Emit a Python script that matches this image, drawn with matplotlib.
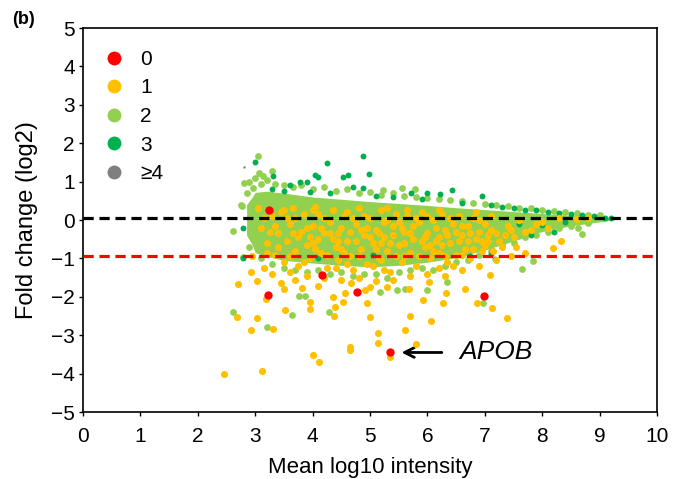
import numpy as np
import matplotlib
matplotlib.use("Agg")
import matplotlib.pyplot as plt
from matplotlib.lines import Line2D

plt.rcParams['font.family'] = ['Liberation Sans', 'DejaVu Sans']

# dense core of the cloud (light green), upper / lower edge
core_x  = [2.85, 2.95, 3.0, 3.2, 3.5, 4.0, 4.5, 5.0, 5.5, 6.0, 6.5, 7.0, 7.5, 8.0, 8.5, 9.0, 9.3]
core_hi = [0.40, 0.60, 0.72, 0.75, 0.70, 0.60, 0.54, 0.48, 0.43, 0.38, 0.32, 0.27, 0.22, 0.17, 0.12, 0.08, 0.05]
core_lo = [-0.40, -0.65, -0.85, -0.95, -1.05, -1.12, -1.18, -1.22, -1.18, -1.10, -0.98, -0.78, -0.55, -0.30, -0.15, -0.05, 0.02]

# light green points (count 2)
g2_x = [2.85, 2.9, 3.0, 3.1, 3.2, 3.35, 3.5, 3.65, 3.8, 4.0, 4.2, 4.4, 4.6, 4.8, 5.0, 5.2, 5.4, 5.6,
        5.8, 6.0, 6.2, 6.4, 6.6, 6.8, 7.0, 7.2, 7.4, 7.6, 7.8, 8.0, 8.2, 8.4, 8.6, 8.8, 9.0,
        3.05, 3.29, 3.07, 3.14, 2.80, 2.96, 2.75, 2.61, 2.77, 2.79, 3.0, 2.61, 3.2, 3.64, 3.76, 3.87,
        4.29, 6.97, 6.34, 5.99, 5.61, 5.47, 5.17, 7.65, 7.84, 8.69, 8.62, 5.56, 5.78, 5.23,
        2.9, 3.1, 3.3, 3.5, 3.7, 3.9, 4.1, 4.3, 4.5, 4.7, 4.9, 5.1, 5.3, 5.5, 5.7, 5.9, 6.1, 6.3,
        6.5, 6.7, 6.9, 7.1, 7.3, 7.5, 7.7, 7.9, 8.1, 8.3, 8.5, 8.8]
g2_y = [0.70, 1.00, 1.10, 0.95, 1.05, 0.95, 0.90, 0.85, 0.90, 0.80, 0.85, 0.75, 0.80, 0.70, 0.72, 0.66, 0.70, 0.62,
        0.60, 0.58, 0.55, 0.52, 0.50, 0.45, 0.42, 0.40, 0.36, 0.32, 0.30, 0.26, 0.24, 0.20, 0.17, 0.14, 0.12,
        1.67, 1.28, 1.22, 1.15, 0.96, 0.83, 0.39, -0.29, 0.36, -0.96, -0.57, -2.40, -2.79, -2.47, -1.98, -1.98,
        -2.40, -2.16, -1.61, -1.82, -1.80, -1.82, -1.87, -1.28, -1.07, -0.36, -0.21, 0.83, 0.81, 0.78,
        -0.70, -1.00, -1.15, -1.25, -1.30, -1.35, -1.30, -1.40, -1.35, -1.45, -1.40, -1.40, -1.50, -1.35, -1.30, -1.25, -1.30, -1.20,
        -1.10, -1.05, -0.90, -0.80, -0.65, -0.60, -0.45, -0.40, -0.30, -0.20, -0.15, -0.08]

# dark green points (count 3)
g3_x = [3.0, 4.25, 3.31, 4.04, 4.09, 4.62, 4.53, 3.78, 3.9, 3.61, 4.88, 4.98, 5.71, 5.99, 6.22, 6.43, 6.95,
        4.88, 4.70, 2.79, 2.79, 3.3, 3.5, 3.95, 4.3, 5.1, 5.4, 5.9, 6.6, 7.1, 7.3, 7.5, 7.7, 7.9, 8.1,
        8.3, 8.5, 8.7, 8.9, 9.1, 9.2, 7.6, 8.0, 8.4, 8.2, 7.8, 5.05, 6.75, 4.1, 7.11, 7.18]
g3_y = [1.51, 1.48, 1.15, 1.17, 1.12, 1.17, 1.12, 0.99, 0.99, 0.91, 1.67, 1.20, 0.70, 0.70, 0.68, 0.77, 0.62,
        0.83, 0.86, -0.21, -1.00, 0.80, 0.75, 0.72, 0.70, 0.62, 0.60, 0.55, 0.45, 0.40, 0.33, 0.30, 0.27, 0.25, 0.20,
        0.18, 0.15, 0.12, 0.10, 0.06, 0.04, -0.10, -0.12, -0.05, -0.30, -0.40, -0.92, -0.95, -1.00, -0.89, -1.02]

# orange points (count 1)
g1_x = [3.05, 3.1, 3.2, 3.3, 3.35, 3.4, 3.45, 3.5, 3.55, 3.6, 3.65, 3.7, 3.75, 3.8, 3.85, 3.9, 3.95, 4.0,
        4.05, 4.1, 4.15, 4.2, 4.25, 4.3, 4.35, 4.4, 4.45, 4.5, 4.55, 4.6, 4.65, 4.7, 4.75, 4.8, 4.85, 4.9,
        4.95, 5.0, 5.05, 5.1, 5.15, 5.2, 5.25, 5.3, 5.35, 5.4, 5.45, 5.5, 5.55, 5.6, 5.65, 5.7, 5.75, 5.8,
        5.85, 5.9, 5.95, 6.0, 6.05, 6.1, 6.15, 6.2, 6.25, 6.3, 6.35, 6.4, 6.45, 6.5, 6.55, 6.6, 6.65, 6.7,
        6.75, 6.8, 6.85, 6.9, 6.95, 7.0, 7.05, 7.1, 7.2, 7.3, 7.4, 7.5, 7.6, 7.7, 7.9, 8.1, 8.3, 8.6, 8.8,
        3.25, 3.55, 3.75, 4.05, 4.35, 4.55, 4.75, 4.95, 5.15, 5.35, 5.55, 5.75, 5.95, 6.15, 6.35, 6.55,
        6.75, 6.95, 7.15, 7.35, 4.15, 4.45, 5.05, 5.45, 5.85, 6.45, 3.95, 4.65, 5.25, 6.05,
        3.15, 3.4, 3.6, 3.7, 3.85, 4.0, 4.1, 4.25, 4.3, 4.45, 4.6, 4.7, 4.8, 4.9, 5.0, 5.1, 5.2, 5.3,
        5.4, 5.5, 5.6, 5.7, 5.8, 5.9, 6.0, 6.1, 6.2, 6.3, 6.4, 6.5, 6.6, 6.7, 6.8, 6.9, 7.0, 7.1,
        7.25, 7.45, 7.55, 7.8, 8.0, 3.35, 3.65, 3.9, 4.2, 4.5, 4.85, 5.2, 5.6, 6.25, 6.6, 7.05,
        3.5, 3.2, 4.6, 5.65, 6.2, 6.85, 4.0, 5.3,
        3.45, 3.50, 3.29, 3.69, 4.09, 3.82, 4.67, 5.0, 4.91, 5.30, 5.68, 6.03, 6.66, 6.32, 7.09, 4.36,
        4.39, 4.37, 4.56, 4.53, 3.95, 3.95, 3.52, 2.70, 2.93, 3.03, 3.19, 2.68, 3.03, 2.93, 3.31, 2.46,
        3.12, 4.0, 4.11, 4.65, 4.65, 4.95, 5.0, 5.14, 5.14, 5.61, 5.70, 6.06, 5.80, 5.35, 5.92, 6.27,
        6.86, 7.13, 7.39, 8.19, 8.33,
        3.6, 3.9, 4.2, 4.5, 4.8, 5.1, 5.4, 5.7, 6.0, 6.3, 6.6, 6.9, 7.2, 7.45, 7.7, 4.4, 5.25, 6.2, 2.95, 3.15]
g1_y = [0.30, -0.20, -0.60, 0.10, -0.90, -0.35, 0.20, -1.10, -0.55, -0.10, 0.30, -0.80, -1.20, -0.30, 0.15, -0.65, -1.00, -0.15,
        0.35, -0.50, -0.85, 0.05, -1.25, -0.35, 0.25, -0.70, -1.05, -0.20, 0.10, -0.55, -0.95, -1.30, -0.10, 0.30, -0.75, -0.40,
        -1.15, 0.05, -0.60, -0.25, -1.00, 0.25, -0.45, -0.80, -1.35, -0.15, 0.15, -0.65, -1.10, -0.30, 0.10, -0.85, -0.50, -1.20,
        -0.05, 0.20, -0.70, -0.35, -1.00, 0.00, -0.55, -0.85, 0.15, -0.25, -1.10, -0.60, -0.10, -0.90, 0.10, -0.40, -0.75, -0.15,
        -1.00, 0.05, -0.50, -0.30, -0.80, -0.10, -0.55, 0.10, -0.35, -0.70, -0.15, -0.45, 0.00, -0.30, -0.10, -0.20, 0.05, 0.02, 0.05,
        -0.30, 0.05, -0.45, -0.75, -0.50, -0.85, -0.55, -0.20, -0.35, -0.60, -0.20, -0.15, -0.45, -0.20, -0.40, -0.55,
        -0.35, -0.55, -0.80, -0.40, -0.20, -0.35, -1.20, -0.95, -0.95, -1.20, -0.45, -0.30, -0.05, -0.65,
        0.05, -0.70, -0.95, 0.05, -1.10, -0.60, 0.15, -0.90, -0.05, -0.55, -1.15, 0.05, -0.95, 0.10, -0.45, -0.75, -1.05, 0.00,
        -0.40, -0.05, -0.95, -0.35, 0.05, -0.55, 0.10, -0.80, -0.45, -0.95, 0.05, -0.30, -0.90, -0.55, -0.75, 0.00, -0.65, -0.25,
        -0.55, -0.25, -0.70, -0.25, -0.05, -0.15, -0.35, -0.20, -0.35, -0.75, -0.25, -0.60, -0.60, -0.65, -0.15, -0.40,
        0.25, -0.85, 0.20, 0.25, 0.25, 0.20, 0.25, 0.30,
        -1.64, -1.80, -1.41, -1.56, -1.72, -1.77, -1.64, -1.74, -1.82, -1.74, -1.80, -1.61, -1.80, -1.90, -1.43, -2.00,
        -2.27, -2.50, -1.90, -2.13, -2.32, -2.13, -2.34, -1.67, -1.35, -1.59, -2.06, -2.53, -2.55, -2.86, -2.84, -4.02,
        -3.93, -3.52, -3.70, -3.31, -3.39, -2.16, -2.53, -2.94, -3.20, -2.86, -2.50, -2.63, -3.23, -3.57, -2.08, -2.16,
        -2.16, -2.29, -2.55, -0.73, -0.55,
        -1.35, -1.45, -1.50, -1.55, -1.50, -1.60, -1.55, -1.45, -1.40, -1.45, -1.30, -1.20, -1.05, -0.95, -0.85, -1.25, -1.30, -1.25, -0.95, -1.25]

# red points (count 0)
g0_x = [3.24, 3.22, 4.16, 4.77, 6.99, 5.35]
g0_y = [0.26, -1.95, -1.43, -1.88, -1.97, -3.45]

# grey point (count >=4)
g4_x = [2.80]
g4_y = [1.38]

mean_line = 0.05
cut_line = -0.93

labels = ['0', '1', '2', '3', '\u22654']
colors = ['#ff0000', '#ffc000', '#92d050', '#00b050', '#7f7f7f']

fig = plt.figure(figsize=(6.73, 4.79), dpi=100)
ax = fig.add_axes([83/673, 1-412/479, 574/673, 384/479])

ax.fill_between(core_x, core_lo, core_hi, color=colors[2], lw=0, zorder=1)
ax.scatter(g2_x, g2_y, s=24, color=colors[2], lw=0, zorder=2)
ax.scatter(g3_x, g3_y, s=18, color=colors[3], lw=0, zorder=3)
ax.scatter(g1_x, g1_y, s=26, color=colors[1], lw=0, zorder=4)
ax.scatter(g0_x, g0_y, s=36, color=colors[0], lw=0, zorder=6)
ax.scatter(g4_x, g4_y, s=3, color=colors[4], lw=0, zorder=6)

ax.axhline(mean_line, color='black', lw=2.3, dashes=(3.2, 1.8), zorder=5)
ax.axhline(cut_line, color='#ff0000', lw=2.3, dashes=(3.2, 1.8), zorder=5)

ax.set_xlim(0, 10)
ax.set_ylim(-5, 5)
ax.set_xticks(range(0, 11))
ax.set_yticks(range(-5, 6))
ax.tick_params(labelsize=15, direction='out', length=3, width=1)
ax.tick_params(axis='x', pad=8)
ax.tick_params(axis='y', pad=3)
for s in ax.spines.values():
    s.set_linewidth(1.2)
ax.set_xlabel('Mean log10 intensity', fontsize=16, labelpad=8)
ax.set_ylabel('Fold change (log2)', fontsize=17, labelpad=9)

handles = [Line2D([], [], marker='o', ls='', markersize=10, markerfacecolor=c, markeredgewidth=0)
           for c in colors]
ax.legend(handles, labels, loc='upper left', bbox_to_anchor=(0.0, 0.992), frameon=False,
          fontsize=15, handletextpad=0.65, labelspacing=0.46, handlelength=1.2)

ax.annotate('', xy=(5.5, -3.45), xytext=(6.3, -3.45),
            arrowprops=dict(arrowstyle='->,head_length=0.7,head_width=0.35', lw=2, color='black'))
ax.text(6.55, -3.45, 'APOB', fontsize=19, style='italic', va='center', ha='left')

fig.text(12/673, 1-20/479, '(b)', fontsize=13, fontweight='bold', va='center', ha='left')

fig.savefig('out.png', dpi=100)
